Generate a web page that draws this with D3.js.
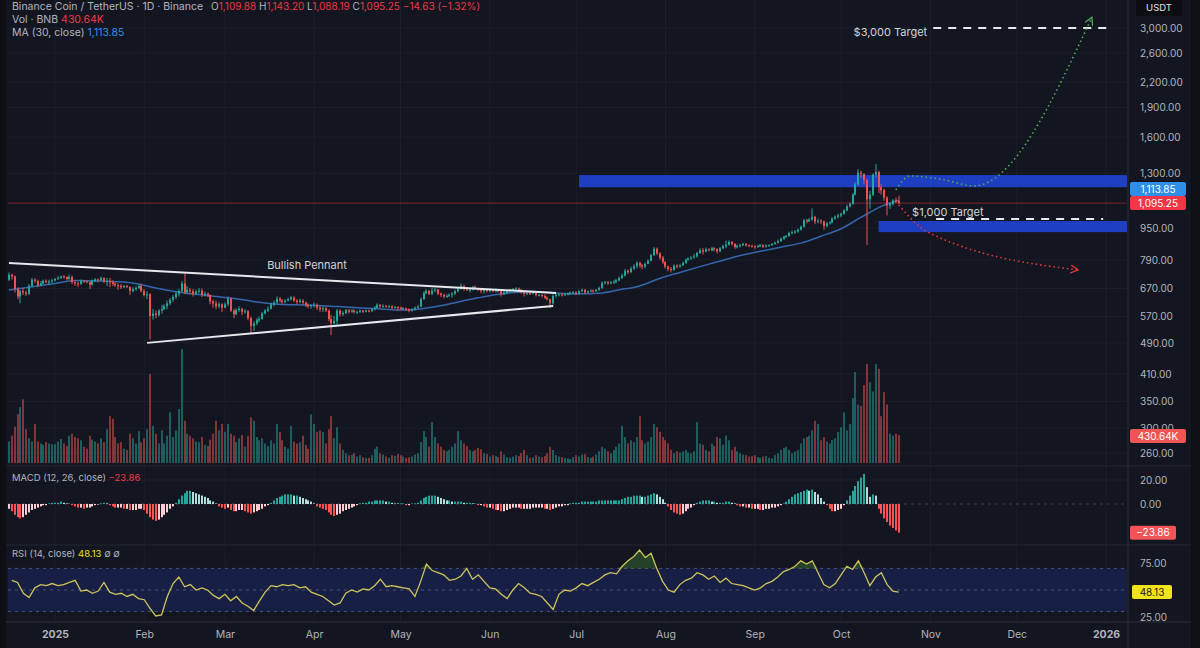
<!DOCTYPE html>
<html>
<head>
<meta charset="utf-8">
<script src="https://cdn.jsdelivr.net/npm/d3@7"></script>
<style>
  html, body { margin: 0; padding: 0; background: #131620; }
  svg text { font-family: "Inter", "Roboto", "DejaVu Sans", sans-serif; }
</style>
</head>
<body>
<svg id="chart" width="1200" height="648"></svg>
<script>
// ---- daily candles, Dec 16 2024 .. Oct 21 2025 (one value per day) ----
var firstOpen = 705;
var closes = [
  725,718,668,640,660,655,650,680,705,700,682,690,700,695,698,702,
  708,712,718,716,708,716,695,690,688,700,698,695,685,700,706,702,712,698,700,695,688,683,680,675,680,676,660,668,672,680,660,
  645,648,572,580,575,590,595,605,615,628,638,650,660,690,655,665,660,650,658,662,645,650,645,622,615,605,612,600,
  612,632,590,578,592,596,586,588,565,540,548,558,562,580,590,596,612,618,632,625,620,625,630,636,625,620,625,618,610,605,608,
  610,600,595,598,590,562,548,556,590,578,582,592,586,590,585,586,590,586,590,588,595,600,610,605,606,604,605,600,602,600,
  596,598,595,590,594,600,604,630,652,660,650,662,666,650,645,640,642,646,650,660,670,680,668,665,665,675,670,665,660,665,660,
  665,660,665,660,650,655,660,665,668,670,665,656,650,652,650,656,645,646,642,636,630,615,642,646,648,645,648,650,655,655,
  650,660,665,655,660,662,660,665,672,692,696,690,695,696,702,712,722,742,736,752,762,776,766,760,772,786,812,842,820,800,780,
  760,750,745,765,760,766,776,790,796,800,806,822,835,828,840,835,845,840,830,845,855,862,876,866,850,856,860,866,860,856,855,
  852,856,860,852,858,860,866,872,880,892,902,906,922,926,930,940,956,992,986,996,1012,985,990,986,960,975,980,1002,1012,1020,
  1030,1050,1075,1090,1150,1220,1305,1295,1250,1120,1150,1290,1310,1200,1180,1130,1080,1090,1112,1109.88,1095.25
];
var highs = [
  735,730,722,675,665,672,662,688,712,710,705,700,705,706,705,708,
  712,720,722,724,718,726,722,702,697,706,704,702,698,706,712,710,718,715,712,712,702,694,690,688,684,684,678,675,680,686,690,
  668,660,652,595,590,595,610,612,625,635,645,660,668,700,735,680,672,668,665,672,670,658,655,648,628,625,620,615,
  618,640,636,595,598,605,600,595,592,570,555,565,570,586,595,605,618,625,640,638,630,630,636,642,640,630,632,630,622,615,612,
  618,615,606,605,602,594,575,572,596,594,588,596,596,596,594,590,594,592,594,594,600,606,615,612,612,610,610,608,606,605,
  604,602,600,598,598,604,610,636,660,668,665,672,672,668,655,650,648,652,656,665,676,690,685,672,670,680,682,672,670,668,668,
  670,668,670,668,662,660,664,668,672,675,674,668,660,656,656,662,660,650,648,648,640,632,648,650,652,652,652,654,658,660,
  660,664,670,668,662,666,666,668,678,698,700,700,700,704,708,718,730,750,748,760,770,785,782,772,778,792,818,850,848,826,808,
  784,765,758,770,770,772,782,796,802,808,818,828,845,846,848,845,852,850,845,850,862,882,884,880,870,862,866,872,870,864,862,
  860,862,866,864,864,864,870,878,888,900,908,912,930,936,938,946,962,1000,1000,1005,1062,1018,1002,998,990,982,986,1010,1020,1030,
  1036,1058,1085,1100,1160,1235,1330,1320,1300,1260,1175,1300,1370,1320,1220,1190,1140,1100,1120,1130,1143.2
];
var lows = [
  700,705,655,630,615,645,642,645,676,692,675,680,686,690,683,692,
  698,704,708,710,702,705,688,680,675,684,692,690,668,682,695,694,700,692,680,675,680,676,665,668,672,672,645,655,660,668,655,
  640,630,500,560,565,570,580,592,595,608,620,630,640,655,648,650,648,640,645,652,638,640,638,612,600,595,598,585,
  598,605,585,565,575,585,575,580,558,518,525,542,552,560,578,585,594,605,612,618,612,615,622,625,620,612,615,610,602,598,596,
  600,592,585,585,585,555,512,545,545,570,572,578,580,582,580,578,582,582,584,584,585,590,598,598,600,600,598,594,596,590,
  592,592,590,584,586,590,596,602,628,648,645,645,655,645,638,634,635,638,636,646,655,665,660,660,655,662,665,660,652,650,655,
  655,655,655,655,640,645,650,655,660,662,660,650,640,645,645,648,640,640,636,630,625,600,610,636,640,640,642,645,646,648,
  645,645,655,650,652,656,654,656,660,668,685,684,686,688,690,698,708,718,728,732,745,752,755,748,752,770,784,808,812,790,772,
  752,740,735,742,752,755,762,772,786,790,796,800,818,815,825,830,830,830,820,826,840,845,858,858,842,844,848,855,852,850,848,
  842,846,850,846,848,852,856,862,868,876,886,896,902,915,918,924,935,952,975,982,990,970,975,970,940,952,968,975,995,1002,
  1010,1025,1045,1068,1085,1145,1210,1265,1220,860,1060,1140,1270,1160,1150,1110,1020,1060,1080,1095,1088.19
];
// volume in thousands of BNB
var volumes = [
  330,420,560,750,860,980,520,380,330,600,330,300,280,320,300,290,
  290,330,370,300,260,420,450,400,380,350,250,220,420,360,330,300,380,320,520,720,680,400,300,320,220,200,450,380,300,490,320,
  380,520,1370,570,450,300,500,300,420,780,400,500,830,1750,650,450,420,380,330,320,400,280,260,360,450,650,500,600,
  480,600,450,420,320,380,430,250,420,700,650,400,350,380,300,260,350,300,600,480,350,250,220,570,330,300,320,420,280,220,750,
  600,480,500,480,300,520,720,380,550,300,200,150,120,130,150,100,120,90,80,80,120,220,250,150,130,100,80,120,110,140,
  120,100,80,90,100,130,150,320,490,400,250,630,400,300,250,200,180,200,250,300,490,350,300,260,200,180,200,230,210,150,140,
  100,120,110,90,180,130,90,80,100,120,110,150,200,120,80,90,120,100,90,110,150,250,200,120,100,90,80,70,60,90,
  120,100,130,140,90,80,100,130,180,250,220,180,150,200,250,300,570,400,300,350,320,400,720,350,300,330,400,600,550,480,400,
  350,300,200,150,180,160,180,200,160,150,180,630,300,280,200,180,300,260,400,380,280,420,350,200,250,180,150,130,120,100,110,
  120,90,80,100,110,80,70,120,150,200,230,250,200,150,180,200,300,380,400,420,500,650,600,350,400,330,300,350,380,480,
  550,780,500,600,1000,1400,900,880,1200,1520,1240,1100,1520,1450,720,1090,900,450,420,450,430.64
];
// MACD histogram, one bar per day
var macdHist = [
  -4,-6,-9,-11,-12,-11,-9,-7,-5,-4,-3,-2,-1,-1,0.5,1,
  1,1,2,1,0.5,0.5,-1,-2,-3,-3,-4,-3,-3,-2,-1,-0.5,0.5,1,0.5,-1,-2,-3,-3,-3,-4,-4,-5,-5,-5,-4,-4,
  -5,-8,-11,-13,-14,-13,-11,-9,-7,-4,-2,1,4,7,9,11,11,10,9,8,7,6,5,3,2,0.5,-2,-3,
  -4,-3,-5,-6,-6,-5,-5,-6,-7,-8,-7,-6,-5,-4,-2,-1,1,3,5,6,7,8,8,8,7,7,6,5,4,3,2,
  0.5,-2,-3,-4,-5,-7,-9,-10,-9,-8,-6,-5,-4,-3,-2,-1,0.5,1,1,2,2,3,3,3,3,2,2,1,1,0.5,
  0.5,0.5,-1,-1,0.5,0.5,1,3,5,6,7,7,7,6,5,4,3,3,2,2,2,2,1,1,1,0.5,0.5,-1,-1,-2,-3,
  -3,-4,-5,-5,-6,-6,-5,-4,-3,-3,-3,-4,-4,-4,-4,-3,-3,-3,-3,-4,-4,-5,-4,-3,-2,-2,-1,-1,0.5,1,
  1,1,2,2,2,2,2,2,3,3,3,3,3,3,3,3,4,5,6,6,7,7,7,6,6,7,8,9,8,6,4,
  1,-2,-5,-7,-8,-9,-8,-6,-4,-3,-1,1,2,3,3,3,2,2,1,1,1,2,2,1,0.5,-1,-2,-2,-3,-3,-4,
  -4,-4,-5,-5,-4,-4,-3,-3,-2,-1,0.5,2,4,6,8,9,10,11,12,11,12,10,8,5,2,-1,-4,-6,-6,-5,
  -4,-1,3,7,11,15,19,22,25,14,6,8,7,-4,-8,-12,-15,-18,-20,-22,-23.86
];
// RSI(14) read every second day, starting Dec 17 2024
var rsiValues = [
  59,57,47,43,52,55,54,56,54,55,57,59,49,50,47,49,57,48,46,47,44,46,42,41,33,26,27,44,56,62,
  53,55,50,52,50,45,42,46,40,44,38,35,31,40,48,54,53,55,54,55,52,53,48,46,44,40,36,38,47,50,
  48,51,50,54,60,53,54,53,52,51,44,58,74,68,66,64,59,60,63,70,60,64,58,52,51,46,42,50,56,52,
  47,46,44,38,32,46,50,49,52,56,54,57,60,64,66,65,72,77,81,87,80,84,70,58,50,48,55,59,61,66,
  64,60,63,57,61,56,55,54,52,50,52,56,58,62,67,69,72,77,74,77,66,55,52,56,64,72,69,77,66,54,
  62,66,55,49,48.13
];
// 30-day moving average, read weekly
var maDates = ["2024-12-16","2024-12-23","2025-01-01","2025-01-08","2025-01-15","2025-01-22","2025-01-29","2025-02-05","2025-02-12","2025-02-19","2025-02-26","2025-03-05","2025-03-12","2025-03-19","2025-03-26","2025-04-02","2025-04-09","2025-04-16","2025-04-23","2025-04-30","2025-05-07","2025-05-14","2025-05-21","2025-05-28","2025-06-04","2025-06-11","2025-06-18","2025-06-25","2025-07-02","2025-07-09","2025-07-16","2025-07-23","2025-07-30","2025-08-06","2025-08-13","2025-08-20","2025-08-27","2025-09-03","2025-09-10","2025-09-17","2025-09-24","2025-10-01","2025-10-08","2025-10-15","2025-10-21"];
var maValues = [664,675,690,702,700,697,690,672,658,648,640,632,620,612,610,608,604,600,596,592,595,605,620,635,648,656,658,652,650,652,665,680,710,735,760,785,810,830,850,870,905,945,1010,1075,1113.85];

// axis ticks
var priceTicks = [3000,2600,2200,1900,1600,1300,950,790,670,570,490,410,350,300,260];
var macdTicks = [20, 0];
var rsiTicks = [75, 25];
var timeLabels = ["2025","Feb","Mar","Apr","May","Jun","Jul","Aug","Sep","Oct","Nov","Dec","2026"];

// drawings on the chart [date, price]
var pennantUpper = [["2024-12-16", 776], ["2025-06-24", 653]];
var pennantLower = [["2025-02-02", 490], ["2025-06-23", 606]];
var zoneUpper = {from: "2025-07-02", lo: 1200, hi: 1287};
var zoneLower = {from: "2025-10-14", lo: 927, hi: 988};
var target3000 = {from: "2025-11-02", to: "2026-01-03", price: 3000, label: "$3,000 Target"};
var target1000 = {from: "2025-11-03", to: "2025-12-31", price: 1000, label: "$1,000 Target"};
var bullPath = [["2025-10-20",1181],["2025-10-25",1280],["2025-11-06",1251],["2025-11-16",1209],["2025-12-27",3178]];
var bearPath = [["2025-10-21",1084],["2025-10-31",928],["2025-12-22",746]];

var lastClose = 1095.25, lastMA = 1113.85, lastVol = 430.64, lastMacd = -23.86, lastRsi = 48.13;

// ---- setup ----
var svg = d3.select("#chart");
var W = 1200, H = 648;
var plotL = 8, plotR = 1127;
var upColor = "#26a69a", downColor = "#ef5350";
var axisText = "#b2b5be";
var parse = d3.utcParse("%Y-%m-%d");

var days = closes.map(function(c, i){ return new Date(Date.UTC(2024, 11, 16 + i)); });

var x = d3.scaleUtc()
  .domain([new Date(Date.UTC(2025,0,1)), new Date(Date.UTC(2026,0,1))])
  .range([55, 1106]);
var y = d3.scaleLog().domain([260, 3000]).range([453, 28]);
var yVol = d3.scaleLinear().domain([0, 1800]).range([463, 346]);
var yMacd = d3.scaleLinear().domain([-25, 25]).range([534, 474]);
var yRsi = d3.scaleLinear().domain([25, 75]).range([617, 563]);

svg.append("rect").attr("width", W).attr("height", H).attr("fill", "#131620");

var defs = svg.append("defs");
defs.append("clipPath").attr("id", "clipMain")
  .append("rect").attr("x", plotL).attr("y", 0).attr("width", plotR - plotL).attr("height", 465);
function arrowMarker(id, color){
  defs.append("marker").attr("id", id)
    .attr("viewBox", "0 0 10 10").attr("refX", 8).attr("refY", 5)
    .attr("markerWidth", 9).attr("markerHeight", 9).attr("markerUnits", "userSpaceOnUse")
    .attr("orient", "auto")
    .append("path").attr("d", "M0,0 L9,5 L0,10").attr("fill", "none")
    .attr("stroke", color).attr("stroke-width", 1.4);
}
arrowMarker("arrGreen", "#4caf50");
arrowMarker("arrRed", "#e53935");

// ---- grid ----
var monthDates = timeLabels.map(function(t, i){ return new Date(Date.UTC(2025, i, 1)); });
var grid = svg.append("g");
grid.selectAll("line.v").data(monthDates).enter().append("line")
  .attr("x1", function(d){ return x(d); }).attr("x2", function(d){ return x(d); })
  .attr("y1", 0).attr("y2", 621).attr("stroke", "#1b1f2a").attr("stroke-width", 1);
grid.selectAll("line.h").data(priceTicks).enter().append("line")
  .attr("x1", plotL).attr("x2", plotR)
  .attr("y1", function(d){ return y(d); }).attr("y2", function(d){ return y(d); })
  .attr("stroke", "#1b1f2a");
grid.append("line").attr("x1", plotL).attr("x2", plotR)
  .attr("y1", yMacd(20)).attr("y2", yMacd(20)).attr("stroke", "#1b1f2a");

// ---- main pane ----
var main = svg.append("g").attr("clip-path", "url(#clipMain)");

// blue zones
[zoneUpper, zoneLower].forEach(function(z){
  main.append("rect")
    .attr("x", x(parse(z.from))).attr("width", plotR - x(parse(z.from)))
    .attr("y", y(z.hi)).attr("height", y(z.lo) - y(z.hi))
    .attr("fill", "#1f3fc2");
});

// current price line
main.append("line").attr("x1", plotL).attr("x2", plotR)
  .attr("y1", y(lastClose)).attr("y2", y(lastClose))
  .attr("stroke", "#f23645").attr("stroke-opacity", 0.45).attr("stroke-width", 1);

// volume
main.selectAll("rect.vol").data(volumes).enter().append("rect")
  .attr("x", function(d, i){ return Math.round(x(days[i])) - 1; })
  .attr("width", 2)
  .attr("y", function(d){ return yVol(d); })
  .attr("height", function(d){ return yVol(0) - yVol(d); })
  .attr("fill", function(d, i){
    var o = i === 0 ? firstOpen : closes[i - 1];
    return closes[i] >= o ? upColor : downColor;
  })
  .attr("fill-opacity", 0.5);

// MA line
var maLine = d3.line()
  .x(function(d){ return x(d[0]); })
  .y(function(d){ return y(d[1]); })
  .curve(d3.curveMonotoneX);
main.append("path")
  .datum(maDates.map(function(d, i){ return [parse(d), maValues[i]]; }))
  .attr("fill", "none").attr("stroke", "#3466ad").attr("stroke-width", 1.5)
  .attr("d", maLine);

// candles
var candles = main.append("g");
closes.forEach(function(c, i){
  var o = i === 0 ? firstOpen : closes[i - 1];
  var col = c >= o ? upColor : downColor;
  var cx = Math.round(x(days[i]));
  var top = Math.max(o, c, highs[i]), bot = Math.min(o, c, lows[i]);
  candles.append("line")
    .attr("x1", cx).attr("x2", cx).attr("y1", y(top)).attr("y2", y(bot))
    .attr("stroke", col).attr("stroke-width", 1);
  var yb = y(Math.max(o, c));
  candles.append("rect")
    .attr("x", cx - 1).attr("width", 2)
    .attr("y", yb).attr("height", Math.max(1, y(Math.min(o, c)) - yb))
    .attr("fill", col);
});

// pennant
var straight = d3.line().x(function(d){ return x(parse(d[0])); }).y(function(d){ return y(d[1]); });
[pennantUpper, pennantLower].forEach(function(p){
  main.append("path").attr("d", straight(p))
    .attr("stroke", "#e6e8ee").attr("stroke-width", 2).attr("fill", "none");
});
main.append("text").attr("x", 307).attr("y", 269).attr("text-anchor", "middle")
  .attr("fill", "#d1d4dc").attr("font-size", "11px").text("Bullish Pennant");

// targets
[target3000, target1000].forEach(function(t){
  main.append("line")
    .attr("x1", x(parse(t.from))).attr("x2", x(parse(t.to)))
    .attr("y1", y(t.price)).attr("y2", y(t.price))
    .attr("stroke", "#e6e8ee").attr("stroke-width", 2).attr("stroke-dasharray", "8,7");
});
main.append("text").attr("x", x(parse(target3000.from)) - 6).attr("y", y(3000) + 8)
  .attr("text-anchor", "end").attr("fill", "#d1d4dc").attr("font-size", "11px").text(target3000.label);
main.append("text").attr("x", x(parse(target1000.from)) - 24).attr("y", y(1000) - 3)
  .attr("fill", "#d1d4dc").attr("font-size", "11px").text(target1000.label);

// projection paths
var curvy = d3.line().x(function(d){ return x(parse(d[0])); }).y(function(d){ return y(d[1]); }).curve(d3.curveMonotoneX);
main.append("path").attr("d", curvy(bullPath)).attr("fill", "none")
  .attr("stroke", "#4caf50").attr("stroke-width", 1.6).attr("stroke-dasharray", "1.5,3")
  .attr("marker-end", "url(#arrGreen)");
main.append("path").attr("d", curvy(bearPath)).attr("fill", "none")
  .attr("stroke", "#e53935").attr("stroke-width", 1.6).attr("stroke-dasharray", "1.5,3")
  .attr("marker-end", "url(#arrRed)");

// ---- MACD pane ----
svg.append("line").attr("x1", plotL).attr("x2", plotR).attr("y1", yMacd(0)).attr("y2", yMacd(0))
  .attr("stroke", "#3a3f4c").attr("stroke-dasharray", "3,4");
svg.append("g").selectAll("rect").data(macdHist).enter().append("rect")
  .attr("x", function(d, i){ return Math.round(x(days[i])) - 1; })
  .attr("width", 2)
  .attr("y", function(d){ return Math.min(yMacd(d), yMacd(0)); })
  .attr("height", function(d){ return Math.abs(yMacd(d) - yMacd(0)); })
  .attr("fill", function(d, i){
    var p = i === 0 ? d : macdHist[i - 1];
    if (d >= 0) return d >= p ? "#26a69a" : "#b2dfdb";
    return d < p ? "#ff5252" : "#ffcdd2";
  });

// ---- RSI pane ----
svg.append("rect").attr("x", plotL).attr("width", plotR - plotL)
  .attr("y", yRsi(70)).attr("height", yRsi(30) - yRsi(70)).attr("fill", "#172044");
[70, 50, 30].forEach(function(v){
  svg.append("line").attr("x1", plotL).attr("x2", plotR).attr("y1", yRsi(v)).attr("y2", yRsi(v))
    .attr("stroke", "#4b5373").attr("stroke-dasharray", "3,4");
});
var rsiPts = rsiValues.map(function(v, k){ return [days[2 * k + 1], v]; });
svg.append("path").datum(rsiPts)
  .attr("fill", "rgba(70,150,60,0.35)")
  .attr("d", d3.area().x(function(d){ return x(d[0]); })
    .y0(yRsi(70)).y1(function(d){ return yRsi(Math.max(70, d[1])); }));
svg.append("path").datum(rsiPts)
  .attr("fill", "none").attr("stroke", "#cfc35a").attr("stroke-width", 1.3)
  .attr("d", d3.line().x(function(d){ return x(d[0]); }).y(function(d){ return yRsi(d[1]); }));

// ---- pane borders ----
svg.append("rect").attr("x", 0).attr("y", 0).attr("width", 6).attr("height", H).attr("fill", "#0d0f15");
svg.append("rect").attr("x", 1191).attr("y", 0).attr("width", 9).attr("height", H).attr("fill", "#0d0f15");
[466, 545].forEach(function(yy){
  svg.append("line").attr("x1", 6).attr("x2", 1191).attr("y1", yy).attr("y2", yy).attr("stroke", "#232733");
});
svg.append("line").attr("x1", 6).attr("x2", 1191).attr("y1", 622).attr("y2", 622).attr("stroke", "#2a2e39");
svg.append("line").attr("x1", 1128).attr("x2", 1128).attr("y1", 0).attr("y2", 648).attr("stroke", "#2a2e39");

// ---- axes ----
function styleAxis(g){
  g.select(".domain").remove();
  g.selectAll(".tick line").remove();
  g.selectAll("text").attr("fill", axisText).attr("font-size", "10px")
    .attr("font-family", "Inter, Roboto, sans-serif");
}
svg.append("g").attr("transform", "translate(1132,0)")
  .call(d3.axisRight(y).tickValues(priceTicks).tickFormat(d3.format(",.2f")).tickSize(0).tickPadding(8))
  .call(styleAxis);
svg.append("g").attr("transform", "translate(1132,0)")
  .call(d3.axisRight(yMacd).tickValues(macdTicks).tickFormat(d3.format(".2f")).tickSize(0).tickPadding(8))
  .call(styleAxis);
svg.append("g").attr("transform", "translate(1132,0)")
  .call(d3.axisRight(yRsi).tickValues(rsiTicks).tickFormat(d3.format(".2f")).tickSize(0).tickPadding(8))
  .call(styleAxis);
var xAxis = svg.append("g").attr("transform", "translate(0,622)")
  .call(d3.axisBottom(x).tickValues(monthDates)
    .tickFormat(function(d, i){ return timeLabels[i]; }).tickSize(0).tickPadding(9))
  .call(styleAxis);
xAxis.selectAll("text").attr("font-size", "10.5px")
  .attr("font-weight", function(d, i){ return timeLabels[i].length === 4 ? "bold" : "normal"; });

// value tags on the right scale
function tag(cy, label, fill, color, x0, w){
  svg.append("rect").attr("x", x0).attr("y", cy - 7).attr("width", w).attr("height", 14)
    .attr("rx", 2).attr("fill", fill);
  svg.append("text").attr("x", x0 + w / 2).attr("y", cy + 3.5).attr("text-anchor", "middle")
    .attr("fill", color).attr("font-size", "10px").text(label);
}
var fmt = d3.format(",.2f");
tag(y(lastClose), fmt(lastClose), "#f23645", "#ffffff", 1130, 56);
tag(y(lastClose) - 14, fmt(lastMA), "#2f8fe8", "#ffffff", 1130, 56);
tag(yVol(lastVol) + 1, lastVol.toFixed(2) + "K", "#f05454", "#ffffff", 1130, 56);
tag(yMacd(lastMacd), "\u2212" + Math.abs(lastMacd).toFixed(2), "#f05454", "#ffffff", 1130, 46);
tag(yRsi(lastRsi), lastRsi.toFixed(2), "#f2e31a", "#1a1a1a", 1132, 40);

// USDT box
svg.append("rect").attr("x", 1136).attr("y", 0).attr("width", 46).attr("height", 16).attr("rx", 2).attr("fill", "#0b0d12");
svg.append("text").attr("x", 1159).attr("y", 11).attr("text-anchor", "middle")
  .attr("fill", "#e0e3eb").attr("font-size", "9.5px").text("USDT");

// ---- legends ----
function legend(x0, yy, size, parts){
  var t = svg.append("text").attr("x", x0).attr("y", yy).attr("font-size", size);
  parts.forEach(function(p){ t.append("tspan").attr("fill", p[1]).text(p[0]); });
  return t;
}
var gray = "#b2b5be", red = "#f23645";
var title = legend(12, 10, "10.5px", [["Binance Coin / TetherUS \u00b7 1D \u00b7 Binance", gray]]);
var titleEnd = 12 + title.node().getComputedTextLength();
legend(Math.max(titleEnd + 8, 196), 10, "10px", [["O", gray], ["1,109.88 ", red],
  ["H", gray], ["1,143.20 ", red], ["L", gray], ["1,088.19 ", red], ["C", gray], ["1,095.25 ", red],
  ["\u221214.63 (\u22121.32%)", red]]);
legend(12, 23, "10.5px", [["Vol \u00b7 BNB  ", gray], ["430.64K", red]]);
legend(12, 36, "10.5px", [["MA (30, close)  ", gray], ["1,113.85", "#2f8fe8"]]);
legend(12, 481, "9.5px", [["MACD (12, 26, close)  ", gray], ["\u221223.86", red]]);
legend(12, 557, "9.5px", [["RSI (14, close)  ", gray], ["48.13", "#f2e31a"], ["  \u2205  \u2205", gray]]);
</script>
</body>
</html>
